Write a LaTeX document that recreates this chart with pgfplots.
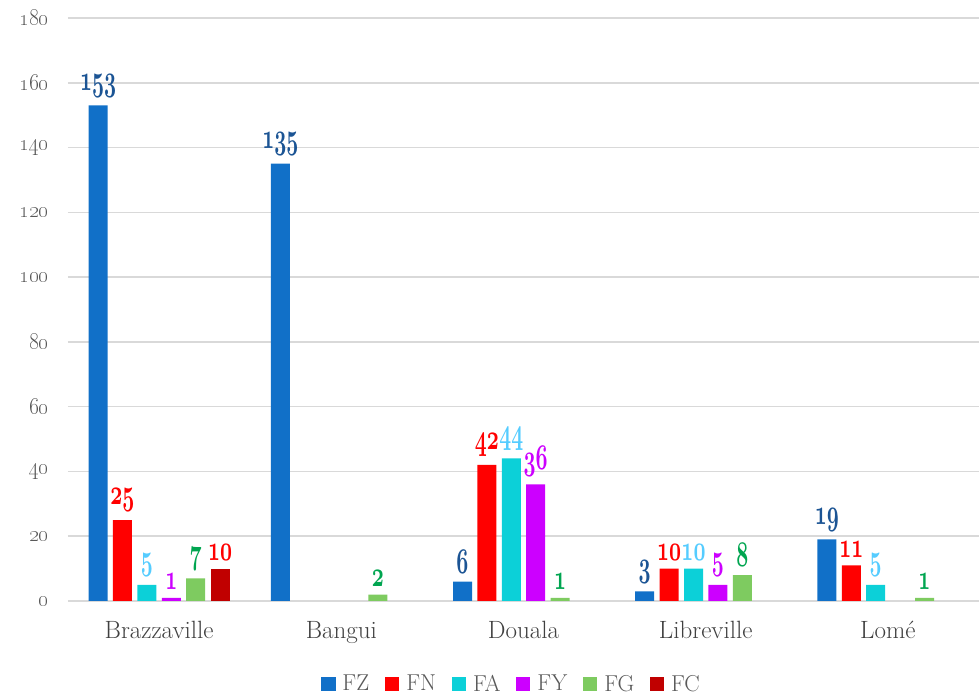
\documentclass[border=0pt]{standalone}
\usepackage{pgfplots}
\usepackage{graphicx}
\pgfplotsset{compat=1.18}
\definecolor{cFZ}{HTML}{1170C8}
\definecolor{cFN}{HTML}{FF0000}
\definecolor{cFA}{HTML}{0CD0D8}
\definecolor{cFY}{HTML}{CC00FF}
\definecolor{cFG}{HTML}{7ECB60}
\definecolor{cFC}{HTML}{C00000}
\definecolor{lFZ}{HTML}{1B5494}
\definecolor{lFA}{HTML}{55CCFF}
\definecolor{lFG}{HTML}{00A550}
\definecolor{gridc}{HTML}{D9D9D9}
\definecolor{txt}{HTML}{595959}
\definecolor{txtd}{HTML}{404040}
\newcommand{\osf}[1]{\scalebox{1}[1.15]{\oldstylenums{#1}}}
\newcommand{\bosf}[1]{\scalebox{0.84}[1.45]{\fontencoding{OML}\fontfamily{cmm}\fontseries{b}\fontshape{it}\selectfont #1}}
\begin{document}
\begin{tikzpicture}
\begin{axis}[
  scale only axis,
  width=911pt, height=583pt,
  ybar=5.4pt, bar width=19pt,
  xmin=-0.5, xmax=4.5,
  ymin=0, ymax=180,
  xtick={0,1,2,3,4},
  xticklabels={Brazzaville,Bangui,Douala,Libreville,Lomé},
  ytick={0,20,...,180},
  yticklabels={\osf{0},\osf{20},\osf{40},\osf{60},\osf{80},\osf{100},\osf{120},\osf{140},\osf{160},\osf{180}},
  ymajorgrids,
  major grid style={gridc, line width=1.5pt},
  axis x line*=bottom,
  axis y line*=left,
  y axis line style={draw=none},
  x axis line style={gridc, line width=1.5pt, -},
  major tick length=0pt,
  xticklabel style={font=\fontsize{25}{25}\selectfont, text=txtd, yshift=-17pt},
  yticklabel style={font=\fontsize{22}{22}\selectfont, text=txt, xshift=-16pt},
  nodes near coords={\bosf{\pgfmathprintnumber[assume math mode=true]{\pgfplotspointmeta}}},
  every node near coord/.append style={font=\fontsize{24}{24}\selectfont, inner sep=0pt, yshift=8pt},
  legend style={at={(0.487,-0.142)}, anchor=center, draw=none, legend columns=-1,
    font=\fontsize{23}{23}\selectfont, text=txt,
    /tikz/every odd column/.append style={column sep=5pt},
    /tikz/every even column/.append style={column sep=14pt}},
  legend image code/.code={\path[#1,draw=none] (0pt,-7pt) rectangle (14pt,7pt);},
  clip=false,
]
\addplot[fill=cFZ, draw=none, nodes near coords style={text=lFZ}] coordinates {(0,153) (1,135) (2,6) (3,3) (4,19)};
\addplot[fill=cFN, draw=none, nodes near coords style={text=cFN}] coordinates {(0,25) (2,42) (3,10) (4,11)};
\addplot[fill=cFA, draw=none, nodes near coords style={text=lFA}] coordinates {(0,5) (2,44) (3,10) (4,5)};
\addplot[fill=cFY, draw=none, nodes near coords style={text=cFY}] coordinates {(0,1) (2,36) (3,5)};
\addplot[fill=cFG, draw=none, nodes near coords style={text=lFG}] coordinates {(0,7) (1,2) (2,1) (3,8) (4,1)};
\addplot[fill=cFC, draw=none, nodes near coords style={text=cFN}] coordinates {(0,10)};
\legend{FZ,FN,FA,FY,FG,FC}
\end{axis}
\pgfresetboundingbox
\path[use as bounding box] (-68pt,-94pt) rectangle (911pt,601pt);
\end{tikzpicture}
\end{document}
